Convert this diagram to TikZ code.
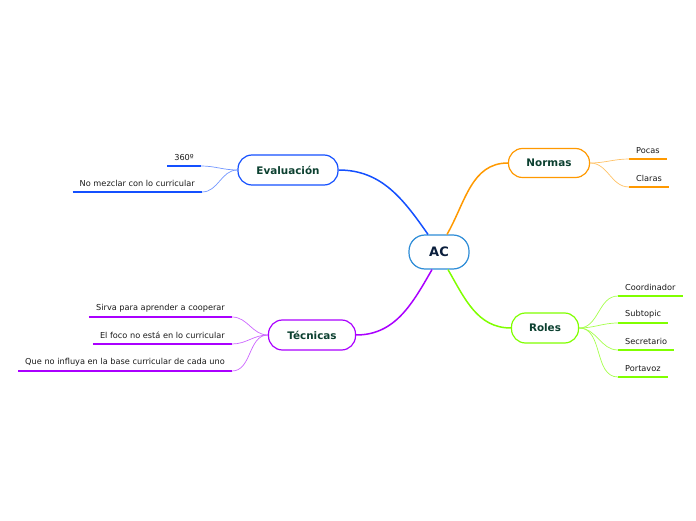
\documentclass[tikz,border=0pt]{standalone}
\usepackage{fontspec}
\setmainfont{DejaVu Sans}
\usepackage{tikz}

\definecolor{acblue}{RGB}{45,140,215}
\definecolor{evalblue}{RGB}{20,80,255}
\definecolor{normorange}{RGB}{255,153,0}
\definecolor{rolegreen}{RGB}{128,255,0}
\definecolor{tecpurple}{RGB}{170,0,255}
\definecolor{titletext}{RGB}{12,64,48}
\definecolor{actext}{RGB}{10,30,60}

\tikzset{
  topic/.style={draw, line width=1.2pt, rounded corners=14pt, fill=white, inner sep=0pt,
    font=\fontsize{10.4}{12}\selectfont\bfseries, text=titletext},
  leaf/.style={inner xsep=7pt, inner ysep=5pt, font=\fontsize{8.2}{10}\selectfont, text=black!90},
  branch/.style={line width=1.5pt},
  twig/.style={line width=0.7pt},
  uline/.style={line width=2.4pt}
}

\begin{document}
\begin{tikzpicture}[x=1pt, y=1pt]
  \useasboundingbox (0,0) rectangle (696,520);

  % central topic and main topics
  \node[topic, draw=acblue, text=actext, minimum width=60pt, minimum height=34pt,
        rounded corners=16pt, font=\fontsize{13}{15}\selectfont\bfseries] (ac) at (439,268) {AC};
  \node[topic, draw=evalblue, minimum width=100pt, minimum height=30pt] (eval) at (288,350) {Evaluación};
  \node[topic, draw=normorange, minimum width=81pt, minimum height=29pt] (norm) at (549,357) {Normas};
  \node[topic, draw=rolegreen, minimum width=67pt, minimum height=30pt] (roles) at (545,192) {Roles};
  \node[topic, draw=tecpurple, minimum width=87pt, minimum height=30pt] (tec) at (312,185) {Técnicas};

  \draw[branch, evalblue] (eval.east) to[out=0, in=125] ([xshift=-11pt]ac.north);
  \draw[branch, normorange] ([xshift=8pt]ac.north) to[out=60, in=180] (norm.west);
  \draw[branch, rolegreen] ([xshift=9pt]ac.south) to[out=-60, in=180] (roles.west);
  \draw[branch, tecpurple] ([xshift=-7pt]ac.south) to[out=-120, in=0] (tec.east);

  % Evaluacion
  \node[leaf, anchor=south east] (e1) at (201,354) {360º};
  \node[leaf, anchor=south east] (e2) at (202,328) {No mezclar con lo curricular};
  \draw[uline, evalblue] (e1.south west) -- (e1.south east);
  \draw[uline, evalblue] (e2.south west) -- (e2.south east);
  \draw[twig, evalblue!60] (eval.west) to[out=180, in=0] (e1.south east);
  \draw[twig, evalblue!60] (eval.west) to[out=180, in=0] (e2.south east);

  % Normas
  \node[leaf, anchor=south west] (n1) at (629,361) {Pocas};
  \node[leaf, anchor=south west] (n2) at (629,333) {Claras};
  \draw[uline, normorange] (n1.south west) -- (n1.south east);
  \draw[uline, normorange] (n2.south west) -- (n2.south east);
  \draw[twig, normorange!60] (norm.east) to[out=0, in=180] (n1.south west);
  \draw[twig, normorange!60] (norm.east) to[out=0, in=180] (n2.south west);

  % Roles
  \node[leaf, anchor=south west] (r1) at (618,224) {Coordinador};
  \node[leaf, anchor=south west] (r2) at (618,197) {Subtopic};
  \node[leaf, anchor=south west] (r3) at (618,170) {Secretario};
  \node[leaf, anchor=south west] (r4) at (618,143) {Portavoz};
  \draw[uline, rolegreen] (r1.south west) -- (r1.south east);
  \draw[uline, rolegreen] (r2.south west) -- (r2.south east);
  \draw[uline, rolegreen] (r3.south west) -- (r3.south east);
  \draw[uline, rolegreen] (r4.south west) -- (r4.south east);
  \draw[twig, rolegreen!70] (roles.east) to[out=0, in=180] (r1.south west);
  \draw[twig, rolegreen!70] (roles.east) to[out=0, in=180] (r2.south west);
  \draw[twig, rolegreen!70] (roles.east) to[out=0, in=180] (r3.south west);
  \draw[twig, rolegreen!70] (roles.east) to[out=0, in=180] (r4.south west);

  % Tecnicas
  \node[leaf, anchor=south east] (t1) at (232,203) {Sirva para aprender a cooperar};
  \node[leaf, anchor=south east] (t2) at (232,176) {El foco no está en lo curricular};
  \node[leaf, anchor=south east] (t3) at (232,149) {Que no influya en la base curricular de cada uno};
  \draw[uline, tecpurple] (t1.south west) -- (t1.south east);
  \draw[uline, tecpurple] (t2.south west) -- (t2.south east);
  \draw[uline, tecpurple] (t3.south west) -- (t3.south east);
  \draw[twig, tecpurple!60] (tec.west) to[out=180, in=0] (t1.south east);
  \draw[twig, tecpurple!60] (tec.west) to[out=180, in=0] (t2.south east);
  \draw[twig, tecpurple!60] (tec.west) to[out=180, in=0] (t3.south east);
\end{tikzpicture}
\end{document}
